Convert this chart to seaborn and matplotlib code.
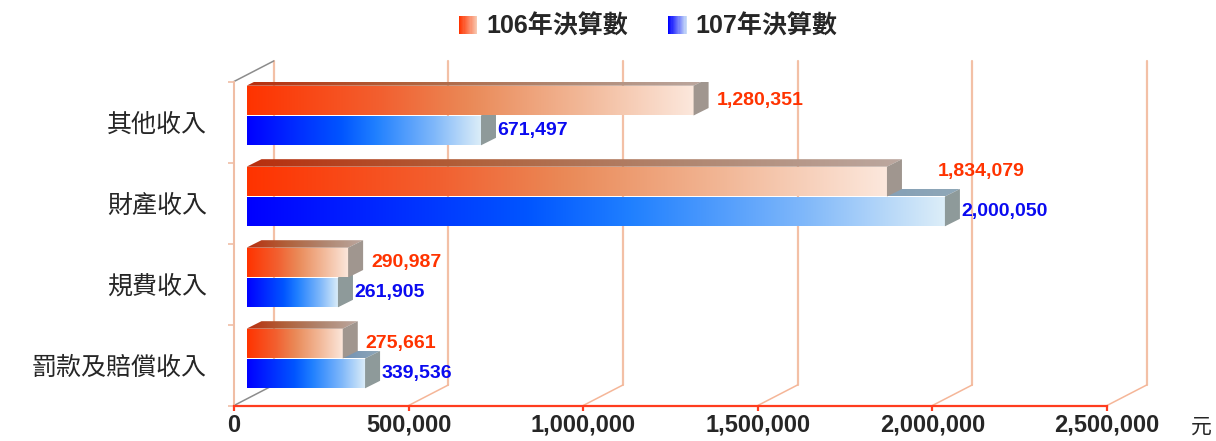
import numpy as np
import pandas as pd
import seaborn as sns
import matplotlib.pyplot as plt
from matplotlib.colors import LinearSegmentedColormap
from matplotlib.patches import Polygon, Rectangle
from matplotlib.legend_handler import HandlerBase

# DATA
categories = ['其他收入', '財產收入', '規費收入', '罰款及賠償收入']
series = ['106年決算數', '107年決算數']
values_106 = [1280351, 1834079, 290987, 275661]
values_107 = [671497, 2000050, 261905, 339536]
xticks = [0, 500000, 1000000, 1500000, 2000000, 2500000]
unit_label = '元'

df = pd.DataFrame({
    '項目': categories * 2,
    '年度': [series[0]] * len(categories) + [series[1]] * len(categories),
    '金額': values_106 + values_107,
})

sns.set_style('white')
plt.rcParams['font.family'] = ['Liberation Sans', 'Noto Sans CJK TC']

W, H, DPI = 1216, 441, 100
fig = plt.figure(figsize=(W / DPI, H / DPI), dpi=DPI)
# front plane of the 3d box (pixels)
L, R, T, B = 234, 1107, 81.5, 405.5
ax = fig.add_axes([L / W, 1 - B / H, (R - L) / W, (B - T) / H])

sns.barplot(data=df, y='項目', x='金額', hue='年度', order=categories,
            hue_order=series, orient='h', width=0.736, errorbar=None,
            legend=False, palette=['#FF3300', '#0000FF'], ax=ax)
n = len(categories)
ax.set_xlim(0, xticks[-1])
ax.set_ylim(n - 0.5, -0.5)
ax.set_autoscale_on(False)

xu = xticks[-1] / (R - L)
yu = n / (B - T)


def off(dx, dy):
    # pixel offset (right, up) -> data offset
    return dx * xu, -dy * yu


plane = off(12.5, 6.5)   # bars sit a bit behind the front plane
depth = off(15, 7.5)     # bar thickness
back = off(39.7, 20.5)   # back wall

# COLOURS
front_cmaps = [
    LinearSegmentedColormap.from_list('f106', [(0, '#FF3300'), (0.3, '#F26030'), (0.5, '#EA8A58'),
                                               (0.75, '#F2B898'), (1, '#FCE8DD')]),
    LinearSegmentedColormap.from_list('f107', [(0, '#0000FF'), (0.4, '#0055FF'), (0.55, '#2080FF'),
                                               (0.8, '#80B8FA'), (1, '#DDEEF8')]),
]
top_cmaps = [
    LinearSegmentedColormap.from_list('t106', ['#B82E0E', '#B0603A', '#B08670', '#BCA8A0']),
    LinearSegmentedColormap.from_list('t107', ['#2040A0', '#5A80B0', '#90A8B8']),
]
side_colors = ['#A0968F', '#8E9A9A']
label_colors = ['#FF3300', '#0A0AF0']
label_gap = [8, 1]
label_nudge = {(1, 0): (28, 10)}
grad = np.linspace(0, 1, 256).reshape(1, -1)


def grad_fill(clip, cmap, extent, z):
    img = ax.imshow(grad, cmap=cmap, extent=extent, aspect='auto',
                    interpolation='bilinear', zorder=z)
    img.set_clip_path(clip)


# BARE 3D
for s, cont in enumerate(ax.containers):
    zb = 4 - s
    for i, p in enumerate(cont.patches):
        p.set_x(p.get_x() + plane[0])
        p.set_y(p.get_y() + plane[1])
        p.set_facecolor('none')
        p.set_edgecolor('none')
        x0, y0, w, h = p.get_x(), p.get_y(), p.get_width(), p.get_height()
        x1 = x0 + w
        dX, dY = depth
        grad_fill(p, front_cmaps[s], [x0, x1, y0 + h, y0], zb)

        top = Polygon([(x0, y0), (x1, y0), (x1 + dX, y0 + dY), (x0 + dX, y0 + dY)],
                      closed=True, facecolor='none', edgecolor='none', zorder=zb + 0.1)
        ax.add_patch(top)
        grad_fill(top, top_cmaps[s], [x0, x1 + dX, y0, y0 + dY], zb + 0.1)

        side = Polygon([(x1, y0), (x1, y0 + h), (x1 + dX, y0 + h + dY), (x1 + dX, y0 + dY)],
                       closed=True, facecolor=side_colors[s], edgecolor='none', zorder=zb + 0.2)
        ax.add_patch(side)

        v = [values_106, values_107][s][i]
        nx, ny = label_nudge.get((i, s), (0, 0))
        ax.annotate(f'{v:,}', xy=(x1 + dX, y0 + h / 2), xytext=(label_gap[s] + nx, ny),
                    textcoords='offset pixels', ha='left', va='center',
                    fontsize=14, fontweight='bold', color=label_colors[s],
                    zorder=6, annotation_clip=False)

# PERETE SPATE SI PODEA
for t in xticks:
    ax.plot([t + back[0]] * 2, [n - 0.5 + back[1], -0.5 + back[1]],
            color='#F3C0A6', lw=1.6, clip_on=False, zorder=1)
    ax.plot([t, t + back[0]], [n - 0.5, n - 0.5 + back[1]],
            color='#8C8C8C' if t == 0 else '#F5B698', lw=1.1, clip_on=False, zorder=1)
ax.plot([0, back[0]], [-0.5, -0.5 + back[1]], color='#8C8C8C', lw=1.1, clip_on=False, zorder=1)

# AXE
for sp in ['top', 'right']:
    ax.spines[sp].set_visible(False)
ax.spines['left'].set_color('#F0BEA5')
ax.spines['left'].set_linewidth(1.5)
ax.spines['bottom'].set_color('#FF3C1E')
ax.spines['bottom'].set_linewidth(1.6)

ax.set_xticks(xticks)
ax.set_xticklabels([f'{t:,}' for t in xticks], fontsize=17, fontweight='bold')
ax.tick_params(axis='x', bottom=True, length=3.6, width=1.6, color='#FF3C1E',
               pad=2.5, direction='out')
ax.set_yticks(range(n))
ax.set_yticklabels(categories, fontsize=18)
ax.tick_params(axis='y', which='major', left=True, length=0, pad=19.4)
ax.set_yticks(np.arange(-0.5, n), minor=True)
ax.tick_params(axis='y', which='minor', left=True, length=4.3, width=1.2,
               color='#F0BEA5', direction='out')
ax.set_xlabel('')
ax.set_ylabel('')

fig.text(1201 / W, 1 - 427 / H, unit_label, fontsize=15, ha='center', va='center')


# LEGENDA
class GradHandler(HandlerBase):
    def __init__(self, cmap):
        super().__init__()
        self.cmap = cmap

    def create_artists(self, legend, orig_handle, xdescent, ydescent, width, height,
                       fontsize, trans):
        k = 16
        arts = []
        for j in range(k):
            arts.append(Rectangle((-xdescent + width * j / k, -ydescent), width / k * 1.05, height,
                                  facecolor=self.cmap(j / (k - 1)), edgecolor='none',
                                  transform=trans))
        return arts


leg_cmaps = [LinearSegmentedColormap.from_list('l106', ['#FF3300', '#F8C8B0']),
             LinearSegmentedColormap.from_list('l107', ['#0000FF', '#C8DCF8'])]
handles = [Rectangle((0, 0), 1, 1), Rectangle((0, 0), 1, 1)]
fig.legend(handles, series,
           handler_map={handles[0]: GradHandler(leg_cmaps[0]), handles[1]: GradHandler(leg_cmaps[1])},
           loc='center', bbox_to_anchor=(648 / W, 1 - 27 / H), ncol=2, frameon=False,
           prop={'size': 18, 'weight': 'bold'}, handlelength=0.75, handleheight=0.75,
           handletextpad=0.35, columnspacing=1.6)

fig.savefig('out.png', dpi=DPI)
